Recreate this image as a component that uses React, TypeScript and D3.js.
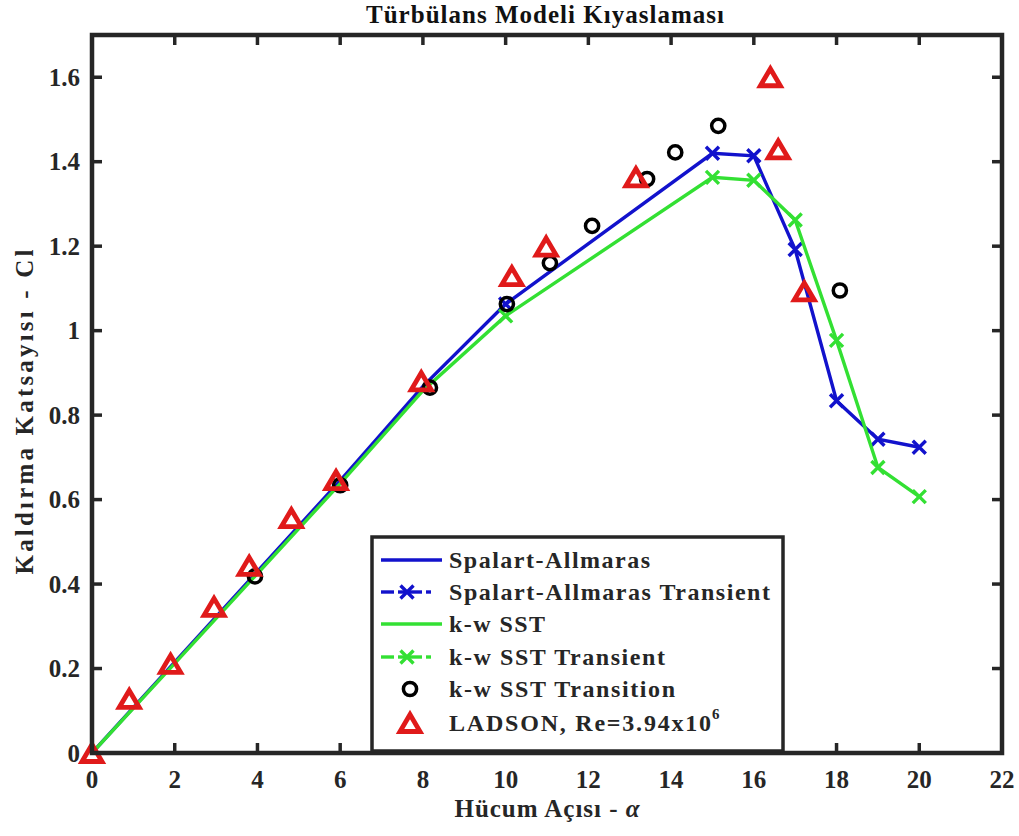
import React from "react";
import * as d3 from "d3";

// Steady-state solver results
const ALPHA_STEADY = [0, 2, 4, 6, 8, 10];
const CL_SA = [0, 0.215, 0.43, 0.645, 0.868, 1.063];
const CL_SST = [0, 0.212, 0.425, 0.638, 0.858, 1.035];

// Transient solver results
const ALPHA_TRANSIENT = [10, 15, 16, 17, 18, 19, 20];
const CL_SA_TRANSIENT = [1.063, 1.42, 1.414, 1.192, 0.834, 0.743, 0.724];
const CL_SST_TRANSIENT = [1.035, 1.363, 1.356, 1.262, 0.977, 0.676, 0.607];

// k-w SST with transition model
const ALPHA_TRANSITION = [3.94, 6.0, 8.17, 10.03, 11.07, 12.09, 13.42, 14.1, 15.14, 18.08];
const CL_TRANSITION = [0.418, 0.634, 0.865, 1.063, 1.16, 1.248, 1.359, 1.422, 1.485, 1.095];

// Ladson experimental data, Re = 3.94e6
const ALPHA_LADSON = [0, 0.9, 1.9, 2.95, 3.8, 4.82, 5.9, 7.96, 10.15, 10.98, 13.15, 16.4, 16.59, 17.22];
const CL_LADSON = [0, 0.128, 0.211, 0.346, 0.443, 0.556, 0.646, 0.88, 1.129, 1.199, 1.363, 1.6, 1.429, 1.093];

const X_TICKS = [0, 2, 4, 6, 8, 10, 12, 14, 16, 18, 20, 22];
const Y_TICKS = [0, 0.2, 0.4, 0.6, 0.8, 1, 1.2, 1.4, 1.6];
const Y_TICK_LABELS = ["0", "0.2", "0.4", "0.6", "0.8", "1", "1.2", "1.4", "1.6"];

const LEGEND_LABELS = [
  "Spalart-Allmaras",
  "Spalart-Allmaras Transient",
  "k-w SST",
  "k-w SST Transient",
  "k-w SST Transition",
  "LADSON, Re=3.94x10",
];

const FONT = "'Liberation Serif', 'Times New Roman', serif";
const AXIS_COLOR = "#262626";
const BLUE = "#1212cc";
const GREEN = "#33e033";
const RED = "#e01a1a";

const W = 1019;
const H = 836;
const LEFT = 92;
const RIGHT = 1002;
const TOP = 35;
const BOTTOM = 753;

const x = d3.scaleLinear().domain([0, 22]).range([LEFT, RIGHT]);
const y = d3.scaleLinear().domain([0, 1.7]).range([BOTTOM, TOP]);

const line = d3
  .line<[number, number]>()
  .x((d) => x(d[0]))
  .y((d) => y(d[1]));

const zip = (a: number[], b: number[]): [number, number][] => a.map((v, i) => [v, b[i]]);

function XMark({ cx, cy, color, s = 6.5 }: { cx: number; cy: number; color: string; s?: number }) {
  return (
    <path
      d={`M${cx - s},${cy - s}L${cx + s},${cy + s}M${cx - s},${cy + s}L${cx + s},${cy - s}`}
      stroke={color}
      strokeWidth={3.4}
      fill="none"
    />
  );
}

function Tri({ cx, cy }: { cx: number; cy: number }) {
  const w = 20;
  const h = 17;
  return (
    <path
      d={`M${cx},${cy - h / 2}L${cx + w / 2},${cy + h / 2}L${cx - w / 2},${cy + h / 2}Z`}
      stroke={RED}
      strokeWidth={4.8}
      strokeLinejoin="miter"
      fill="none"
    />
  );
}

function Circ({ cx, cy }: { cx: number; cy: number }) {
  return <circle cx={cx} cy={cy} r={6.6} stroke="#000" strokeWidth={3.5} fill="none" />;
}

export default function App() {
  const sa = zip(ALPHA_STEADY, CL_SA);
  const sst = zip(ALPHA_STEADY, CL_SST);
  const saT = zip(ALPHA_TRANSIENT, CL_SA_TRANSIENT);
  const sstT = zip(ALPHA_TRANSIENT, CL_SST_TRANSIENT);
  const trans = zip(ALPHA_TRANSITION, CL_TRANSITION);
  const ladson = zip(ALPHA_LADSON, CL_LADSON);

  const legendRows = [560, 592, 624, 657, 689, 723];
  const legendTextLen = [201, 321, 96, 216, 226, 262];
  const lx0 = 381;
  const lx1 = 442;
  const lmid = 410;
  const textX = 449;

  return (
    <svg
      width={W}
      height={H}
      style={{ position: "absolute", left: 0, top: 0, background: "#fff" }}
      fontFamily={FONT}
      fontWeight="bold"
    >
      <rect x={0} y={0} width={W} height={H} fill="#fff" />

      {/* series */}
      <path d={line(sa) || ""} stroke={BLUE} strokeWidth={3.4} fill="none" />
      <path d={line(saT) || ""} stroke={BLUE} strokeWidth={3.4} fill="none" />
      {saT.map((d, i) => (
        <XMark key={"sat" + i} cx={x(d[0])} cy={y(d[1])} color={BLUE} />
      ))}
      <path d={line(sst) || ""} stroke={GREEN} strokeWidth={3.4} fill="none" />
      <path d={line(sstT) || ""} stroke={GREEN} strokeWidth={3.4} fill="none" />
      {sstT.map((d, i) => (
        <XMark key={"sstt" + i} cx={x(d[0])} cy={y(d[1])} color={GREEN} />
      ))}
      {trans.map((d, i) => (
        <Circ key={"tr" + i} cx={x(d[0])} cy={y(d[1])} />
      ))}
      {ladson.map((d, i) => (
        <Tri key={"la" + i} cx={x(d[0])} cy={y(d[1])} />
      ))}

      {/* axes frame and ticks */}
      <rect
        x={LEFT}
        y={TOP}
        width={RIGHT - LEFT}
        height={BOTTOM - TOP}
        fill="none"
        stroke={AXIS_COLOR}
        strokeWidth={4.5}
      />
      {X_TICKS.map((t) => (
        <g key={"xt" + t}>
          <line x1={x(t)} x2={x(t)} y1={BOTTOM} y2={BOTTOM - 10} stroke={AXIS_COLOR} strokeWidth={3.5} />
          <line x1={x(t)} x2={x(t)} y1={TOP} y2={TOP + 10} stroke={AXIS_COLOR} strokeWidth={3.5} />
          <text x={x(t)} y={788} textAnchor="middle" fontSize={25} fill={AXIS_COLOR}>
            {t}
          </text>
        </g>
      ))}
      {Y_TICKS.map((t, i) => (
        <g key={"yt" + t}>
          <line x1={LEFT} x2={LEFT + 10} y1={y(t)} y2={y(t)} stroke={AXIS_COLOR} strokeWidth={3.5} />
          <line x1={RIGHT} x2={RIGHT - 10} y1={y(t)} y2={y(t)} stroke={AXIS_COLOR} strokeWidth={3.5} />
          <text x={80} y={y(t) + 8.5} textAnchor="end" fontSize={25} fill={AXIS_COLOR}>
            {Y_TICK_LABELS[i]}
          </text>
        </g>
      ))}

      {/* titles */}
      <text x={545} y={23} textAnchor="middle" fontSize={25} fill="#111" textLength={358} lengthAdjust="spacing">
        Türbülans Modeli Kıyaslaması
      </text>
      <text x={547} y={817} textAnchor="middle" fontSize={25} fill={AXIS_COLOR} textLength={185} lengthAdjust="spacing">
        Hücum Açısı - <tspan fontStyle="italic">α</tspan>
      </text>
      <text
        transform={`translate(33, 412) rotate(-90)`}
        textAnchor="middle"
        fontSize={25}
        fill={AXIS_COLOR}
        textLength={325}
        lengthAdjust="spacing"
      >
        Kaldırma Katsayısı - Cl
      </text>

      {/* legend */}
      <rect x={372} y={537} width={411} height={214} fill="#fff" stroke={AXIS_COLOR} strokeWidth={3.5} />
      <line x1={lx0} x2={lx1} y1={legendRows[0]} y2={legendRows[0]} stroke={BLUE} strokeWidth={3.4} />
      <line x1={lx0} x2={394} y1={legendRows[1]} y2={legendRows[1]} stroke={BLUE} strokeWidth={3.4} />
      <line x1={398} x2={422} y1={legendRows[1]} y2={legendRows[1]} stroke={BLUE} strokeWidth={3.4} />
      <line x1={426} x2={431} y1={legendRows[1]} y2={legendRows[1]} stroke={BLUE} strokeWidth={3.4} />
      <XMark cx={407} cy={legendRows[1]} color={BLUE} />
      <line x1={lx0} x2={lx1} y1={legendRows[2]} y2={legendRows[2]} stroke={GREEN} strokeWidth={3.4} />
      <line x1={lx0} x2={394} y1={legendRows[3]} y2={legendRows[3]} stroke={GREEN} strokeWidth={3.4} />
      <line x1={398} x2={422} y1={legendRows[3]} y2={legendRows[3]} stroke={GREEN} strokeWidth={3.4} />
      <line x1={426} x2={431} y1={legendRows[3]} y2={legendRows[3]} stroke={GREEN} strokeWidth={3.4} />
      <XMark cx={407} cy={legendRows[3]} color={GREEN} />
      <Circ cx={lmid} cy={legendRows[4]} />
      <Tri cx={lmid} cy={legendRows[5]} />
      {LEGEND_LABELS.map((lab, i) => (
        <text
          key={"lg" + i}
          x={textX}
          y={legendRows[i] + 8}
          fontSize={24}
          fill={AXIS_COLOR}
          textLength={legendTextLen[i]}
          lengthAdjust="spacing"
        >
          {lab}
        </text>
      ))}
      <text x={textX + legendTextLen[5] + 1} y={legendRows[5] - 4} fontSize={15} fill={AXIS_COLOR}>
        6
      </text>
    </svg>
  );
}
